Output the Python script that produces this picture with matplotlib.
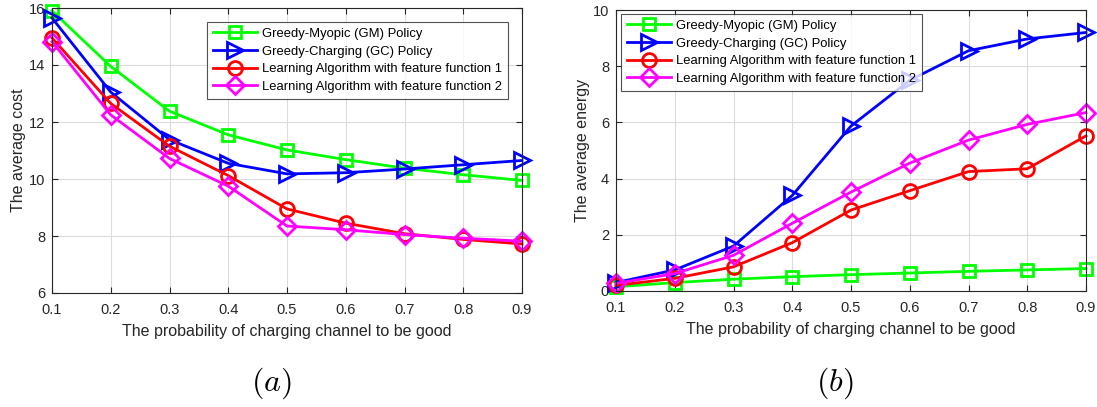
import matplotlib
matplotlib.use("Agg")
import matplotlib.pyplot as plt

plt.rcParams['font.family'] = ['Liberation Sans', 'DejaVu Sans']
plt.rcParams['mathtext.fontset'] = 'cm'

p_good = [0.1, 0.2, 0.3, 0.4, 0.5, 0.6, 0.7, 0.8, 0.9]
labels = ['Greedy-Myopic (GM) Policy', 'Greedy-Charging (GC) Policy',
          'Learning Algorithm with feature function 1',
          'Learning Algorithm with feature function 2']

# (a) average cost
cost_gm = [15.9, 13.95, 12.38, 11.55, 11.02, 10.68, 10.38, 10.15, 9.95]
cost_gc = [15.65, 13.05, 11.38, 10.55, 10.18, 10.22, 10.35, 10.5, 10.65]
cost_l1 = [14.95, 12.65, 11.15, 10.12, 8.95, 8.45, 8.08, 7.88, 7.72]
cost_l2 = [14.82, 12.25, 10.72, 9.75, 8.35, 8.22, 8.05, 7.92, 7.82]

# (b) average energy
en_gm = [0.15, 0.3, 0.42, 0.51, 0.58, 0.64, 0.7, 0.75, 0.8]
en_gc = [0.3, 0.75, 1.6, 3.4, 5.87, 7.5, 8.55, 8.97, 9.2]
en_l1 = [0.2, 0.45, 0.86, 1.72, 2.88, 3.57, 4.25, 4.35, 5.52]
en_l2 = [0.27, 0.62, 1.27, 2.41, 3.52, 4.55, 5.37, 5.93, 6.35]

styles = [('#00ff00', 's'), ('#0000ff', '>'), ('#ff0000', 'o'), ('#ff00ff', 'D')]
gray = '#262626'

fig = plt.figure(figsize=(10.97, 4.07), dpi=100)
ax1 = fig.add_axes([52/1097, 114/407, 470/1097, 285/407])
ax2 = fig.add_axes([616/1097, 116/407, 470/1097, 281/407])


def draw(ax, series, ylim, yticks, ylabel, legend_box):
    for ys, (c, m), lab in zip(series, styles, labels):
        ms = {'s': 9, '>': 11, 'o': 10, 'D': 9}[m]
        ax.plot(p_good, ys, color=c, marker=m, markerfacecolor='none',
                markeredgecolor=c, markeredgewidth=2, markersize=ms,
                linewidth=2, label=lab, clip_on=False)
    ax.set_xlim(0.1, 0.9)
    ax.set_ylim(*ylim)
    ax.set_xticks(p_good)
    ax.set_xticklabels([f'{v:g}' for v in p_good])
    ax.set_yticks(yticks)
    ax.grid(True, color='#dcdcdc', linewidth=0.8)
    ax.set_axisbelow(True)
    ax.tick_params(direction='in', top=True, right=True, length=4,
                   colors=gray, labelsize=10.5, labelcolor=gray)
    ax.tick_params(axis='x', pad=7)
    ax.tick_params(axis='y', pad=5)
    for s in ax.spines.values():
        s.set_color(gray)
        s.set_linewidth(0.8)
    ax.set_xlabel('The probability of charging channel to be good',
                  fontsize=11.5, color=gray, labelpad=5)
    ax.set_ylabel(ylabel, fontsize=11.5, color=gray, labelpad=2)
    leg = ax.legend(loc='upper left', bbox_to_anchor=legend_box, fontsize=9.4,
                    frameon=True, fancybox=False, edgecolor=gray,
                    handlelength=3.4, borderpad=0.45, labelspacing=0.42,
                    handletextpad=0.4, borderaxespad=0)
    leg.get_frame().set_linewidth(0.8)
    leg.set_zorder(10)


draw(ax1, [cost_gm, cost_gc, cost_l1, cost_l2], (6, 16), [6, 8, 10, 12, 14, 16],
     'The average cost', ((207 - 52) / 470, (293 - 22) / 285))
draw(ax2, [en_gm, en_gc, en_l1, en_l2], (0, 10), [0, 2, 4, 6, 8, 10],
     'The average energy', ((621 - 616) / 470, (291 - 14) / 281))

fig.text(271/1097, 1 - 383/407, '$(a)$', fontsize=23, ha='center', va='center')
fig.text(835/1097, 1 - 383/407, '$(b)$', fontsize=23, ha='center', va='center')

fig.savefig('out.png', dpi=100)
